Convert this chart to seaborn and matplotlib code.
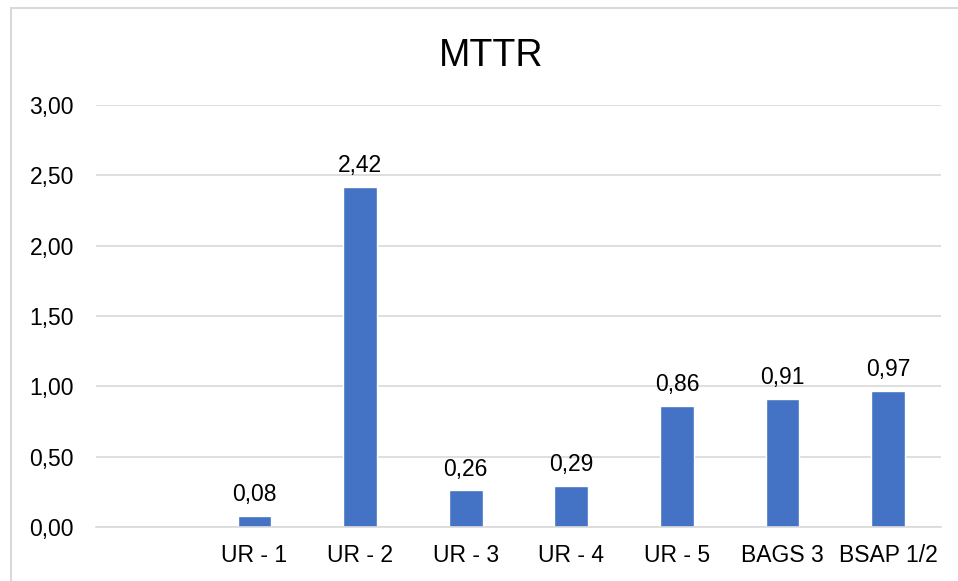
import pandas as pd
import seaborn as sns
import matplotlib.pyplot as plt
from matplotlib.patches import Rectangle
from matplotlib.ticker import FuncFormatter

categories = ['UR - 1', 'UR - 2', 'UR - 3', 'UR - 4', 'UR - 5', 'BAGS 3', 'BSAP 1/2']
mttr = [0.08, 2.42, 0.26, 0.29, 0.86, 0.91, 0.97]
order = [''] + categories

df = pd.DataFrame({'category': categories, 'mttr': mttr})

sns.set_style('white')
plt.rcParams['font.family'] = ['Liberation Sans', 'DejaVu Sans']

fig = plt.figure(figsize=(9.58, 5.81), dpi=100)
ax = fig.add_axes([96 / 958, 1 - 527 / 581, 845 / 958, 422 / 581])

sns.barplot(data=df, x='category', y='mttr', order=order, color='#4472C4',
            saturation=1, width=0.32, ax=ax)

for c in ax.containers:
    ax.bar_label(c, labels=[f'{v:.2f}'.replace('.', ',') for v in c.datavalues],
                 padding=7, fontsize=16.5, color='#000000')

ax.set_ylim(0, 3)
ax.set_yticks([0, 0.5, 1, 1.5, 2, 2.5, 3])
ax.yaxis.set_major_formatter(FuncFormatter(lambda v, p: f'{v:.2f}'.replace('.', ',')))
ax.set_xlabel('')
ax.set_ylabel('')
ax.grid(visible=True, axis='y', color='#D9D9D9', linewidth=1.2)
ax.set_axisbelow(True)
for s in ['left', 'right', 'top']:
    ax.spines[s].set_visible(False)
ax.spines['bottom'].set_color('#D9D9D9')
ax.spines['bottom'].set_linewidth(1.2)
ax.tick_params(axis='y', length=0, pad=16, labelsize=16.5, labelcolor='#000000')
ax.tick_params(axis='x', length=0, pad=12, labelsize=16.5, labelcolor='#000000')

fig.text(491 / 958, 1 - 66 / 581, 'MTTR', ha='center', va='baseline',
         fontsize=27, color='#000000')

fig.patches.append(Rectangle((11 / 958, -0.1), 1.2, 1 - 8 / 581 + 0.1,
                             transform=fig.transFigure, fill=False,
                             edgecolor='#D9D9D9', linewidth=1.5))

fig.savefig('out.png', dpi=100)
